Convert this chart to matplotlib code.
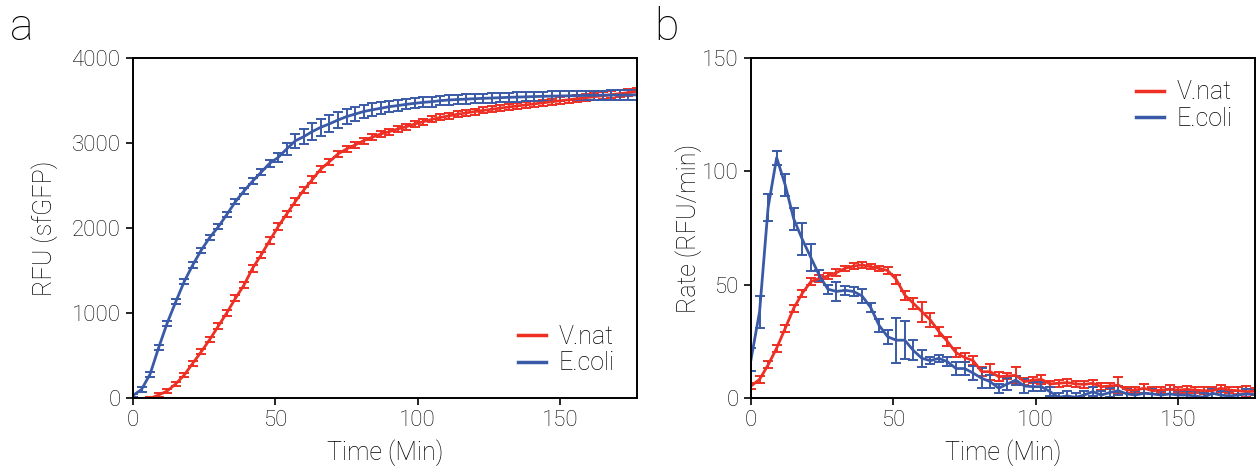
import numpy as np
import matplotlib
matplotlib.use('Agg')
import matplotlib.pyplot as plt
from matplotlib.lines import Line2D

plt.rcParams['font.family'] = ['Roboto', 'Liberation Sans', 'DejaVu Sans']
plt.rcParams['font.weight'] = 'light'
plt.rcParams['axes.labelweight'] = 'light'
plt.rcParams['text.color'] = 'black'
plt.rcParams['axes.labelcolor'] = 'black'

# sampling times (min), one reading every 3 min
time_min = np.arange(0, 178, 3)

# ===============
# panel a: fluorescence
# ===============
rfu_vnat = [-80, -40, -5, 35, 82, 165, 270, 408, 545, 690,
            847, 1004, 1173, 1329, 1525, 1682, 1851, 2016, 2165, 2310,
            2447, 2570, 2694, 2780, 2871, 2929, 2976, 3027, 3067, 3106,
            3133, 3165, 3192, 3224, 3251, 3278, 3300, 3320, 3338, 3354,
            3369, 3383, 3397, 3410, 3423, 3436, 3448, 3460, 3472, 3484,
            3496, 3508, 3520, 3532, 3544, 3556, 3568, 3580, 3592, 3604]
rfu_vnat_err = [20, 20, 20, 20, 25, 25, 25, 30, 30, 30,
                30, 35, 35, 35, 40, 40, 40, 40, 40, 40,
                40, 40, 35, 35, 35, 35, 35, 35, 35, 35,
                35, 35, 35, 35, 35, 35, 35, 35, 35, 35,
                35, 35, 35, 35, 35, 35, 35, 35, 35, 35,
                40, 40, 40, 40, 40, 40, 40, 40, 40, 40]
rfu_ecoli = [30, 100, 280, 590, 880, 1130, 1370, 1565, 1740, 1890,
             2015, 2160, 2310, 2435, 2550, 2655, 2760, 2830, 2930, 3025,
             3075, 3135, 3185, 3225, 3270, 3310, 3340, 3370, 3390, 3408,
             3427, 3440, 3455, 3467, 3478, 3486, 3498, 3506, 3511, 3516,
             3521, 3525, 3529, 3533, 3537, 3540, 3543, 3546, 3549, 3551,
             3553, 3555, 3557, 3559, 3561, 3562, 3563, 3564, 3565, 3566]
rfu_ecoli_err = [20, 25, 30, 30, 30, 30, 30, 30, 30, 30,
                 30, 30, 30, 30, 35, 35, 40, 50, 70, 85,
                 90, 100, 100, 100, 95, 90, 85, 80, 75, 70,
                 65, 62, 60, 60, 58, 58, 56, 56, 55, 55,
                 55, 55, 55, 55, 55, 55, 55, 55, 55, 55,
                 55, 55, 55, 55, 55, 55, 55, 55, 55, 55]

# ===============
# panel b: rate
# ===============
rate_vnat = [5.3, 8.2, 14.6, 22, 30.7, 39.6, 46.2, 51.3, 52.8, 53.8,
             55.3, 57.2, 58.2, 58.7, 57.9, 57.2, 56.2, 52.3, 45.4, 41.8,
             38.1, 34.4, 29.3, 24.9, 20, 17.9, 16.5, 11.6, 11.6, 9.4,
             9.7, 10, 7.2, 7.9, 8.2, 6.2, 6.5, 6.8, 6.2, 6,
             6.5, 5, 5.3, 5.7, 3.5, 3.5, 4.3, 3.2, 3.5, 3.8,
             3.5, 3.8, 3.5, 3.2, 3.2, 4.3, 3.5, 3.2, 2.8, 3.0]
rate_vnat_err = [1.5, 1.5, 1.5, 1.5, 1.5, 1.5, 1.5, 1.5, 1.5, 1.5,
                 1.5, 1.2, 1.2, 1.2, 1.2, 1.2, 1.5, 2, 2, 2.5,
                 4.4, 3, 2, 2, 2, 2, 2, 2, 3.5, 2,
                 1.5, 3.5, 1.5, 1.5, 2, 1.5, 1.5, 1.5, 1.5, 1.5,
                 1.5, 1.5, 1.5, 3.5, 1.5, 1.5, 2, 1.5, 1.5, 2,
                 1.5, 1.5, 1.5, 1.5, 1.5, 1.5, 1.5, 1.5, 2.5, 1.5]
rate_ecoli = [17, 38, 84, 106, 94, 79, 70, 62, 54, 48,
              47, 47.5, 47, 45, 40, 32, 27, 25.5, 25.5, 21,
              17.5, 16.5, 17.5, 16, 13, 13, 11, 8.7, 7.2, 4.3,
              6.2, 7.9, 5.3, 5, 5, 2.8, 0.3, 0.9, 0.3, 1.3,
              2.8, 1.3, 2.4, 3.2, 1.8, 1.3, 2.1, 1.8, 1.3, 1.8,
              1.3, 1.3, 0.9, 0.3, 2.1, 1.3, 0.9, 1.3, 1.8, 1.5]
rate_ecoli_err = [5, 7, 6, 3, 5, 5, 7, 6, 2.5, 2,
                  4, 2, 2, 3, 2, 3, 3, 10, 8.5, 4.4,
                  3.7, 1.5, 1.5, 2, 3, 3, 3, 4.4, 3, 2,
                  2.5, 2, 3, 2, 2, 2, 2, 2, 2, 2,
                  2, 2, 2, 2, 2, 2, 2, 2, 2, 2,
                  2, 2, 2, 2, 2, 2, 2, 2, 2, 2]

red = '#EE2F24'
blue = '#3A5AA8'
labels = ['V.nat', 'E.coli']

fig = plt.figure(figsize=(12.58, 4.69), dpi=100)
ax_a = fig.add_axes([0.1057, 0.1514, 0.4006, 0.725])
ax_b = fig.add_axes([0.597, 0.1514, 0.4006, 0.725])


def draw(ax, y1, e1, y2, e2):
    for y, e, c in [(y1, e1, red), (y2, e2, blue)]:
        ax.errorbar(time_min, y, yerr=e, color=c, lw=2, elinewidth=1.4,
                    capsize=3.5, capthick=1.4)
    ax.set_xlim(0, 177)
    ax.set_xticks([0, 50, 100, 150])
    ax.set_xlabel('Time (Min)', fontsize=18, labelpad=6)
    ax.tick_params(direction='out', length=5, width=1.2, labelsize=16, pad=4,
                   labelcolor='black')
    for s in ax.spines.values():
        s.set_linewidth(1.4)
    handles = [Line2D([], [], color=red, lw=2.5), Line2D([], [], color=blue, lw=2.5)]
    return handles


h = draw(ax_a, rfu_vnat, rfu_vnat_err, rfu_ecoli, rfu_ecoli_err)
ax_a.set_ylim(0, 4000)
ax_a.set_yticks([0, 1000, 2000, 3000, 4000])
ax_a.set_ylabel('RFU (sfGFP)', fontsize=18, labelpad=10)
ax_a.legend(h, labels, loc='lower right', frameon=False, fontsize=18,
            handlelength=1.1, handletextpad=0.5, labelspacing=0.1)

h = draw(ax_b, rate_vnat, rate_vnat_err, rate_ecoli, rate_ecoli_err)
ax_b.set_ylim(0, 150)
ax_b.set_yticks([0, 50, 100, 150])
ax_b.set_ylabel('Rate (RFU/min)', fontsize=18, labelpad=0)
ax_b.legend(h, labels, loc='upper right', frameon=False, fontsize=18,
            handlelength=1.1, handletextpad=0.5, labelspacing=0.1)

fig.text(0.008, 0.915, 'a', fontsize=32)
fig.text(0.52, 0.915, 'b', fontsize=32)

fig.savefig('out.png', dpi=100)
